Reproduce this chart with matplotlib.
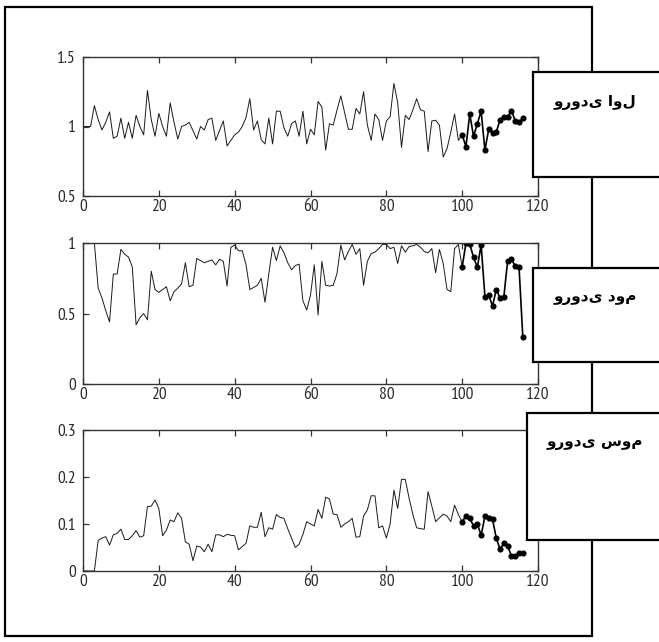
import matplotlib
matplotlib.use("Agg")
import matplotlib.pyplot as plt
from matplotlib.patches import Rectangle

# ---------------- data ----------------
x_main = list(range(0, 101))
x_mark = list(range(100, 117))

s1_main = [1.0, 1.0, 1.0, 1.15, 1.05, 0.975, 1.03, 1.105, 0.915, 0.93,
           1.06, 0.915, 1.03, 0.915, 1.08, 1.0, 0.94, 1.26, 1.05, 0.93,
           1.095, 1.0, 0.93, 1.17, 1.03, 0.91, 1.0, 1.01, 1.03, 0.97,
           0.91, 1.0, 0.975, 1.05, 1.06, 0.9, 0.97, 1.04, 0.86, 0.9,
           0.94, 0.96, 1.0, 1.065, 1.2, 0.975, 1.04, 0.905, 0.875, 1.06,
           0.875, 1.11, 1.11, 0.99, 0.93, 1.02, 1.04, 0.93, 1.11, 0.875,
           0.98, 0.94, 1.18, 1.14, 0.83, 1.02, 1.01, 1.12, 1.22, 1.1,
           0.98, 0.98, 1.13, 1.09, 1.25, 1.01, 0.9, 1.09, 1.05, 0.9,
           1.04, 1.07, 1.31, 1.17, 0.85, 1.08, 1.05, 1.12, 1.2, 1.12,
           1.11, 0.82, 1.04, 1.045, 1.01, 0.78, 0.84, 0.96, 1.09, 0.9,
           0.94]
s1_mark = [0.94, 0.855, 1.09, 0.93, 1.02, 1.11, 0.83, 0.98, 0.955, 0.96,
           1.05, 1.07, 1.07, 1.115, 1.04, 1.03, 1.06]

s2_main = [1.0, 1.0, 1.0, 1.0, 0.68, 0.61, 0.52, 0.44, 0.78, 0.78,
           0.955, 0.92, 0.9, 0.83, 0.42, 0.47, 0.5, 0.455, 0.8, 0.67,
           0.65, 0.67, 0.69, 0.59, 0.655, 0.68, 0.71, 0.86, 0.69, 0.70,
           0.89, 0.875, 0.86, 0.87, 0.88, 0.845, 0.885, 0.87, 0.695, 0.97,
           0.985, 0.945, 0.945, 0.845, 0.67, 0.685, 0.70, 0.75, 0.58, 0.78,
           0.97, 0.875, 0.98, 0.93, 0.86, 0.81, 0.84, 0.85, 0.59, 0.525,
           0.63, 0.845, 0.49, 0.87, 0.70, 0.695, 0.70, 0.785, 0.985, 0.88,
           0.94, 0.99, 0.92, 0.96, 0.70, 0.87, 0.925, 0.935, 0.96, 0.99,
           0.99, 0.96, 0.97, 0.855, 0.98, 0.935, 0.975, 0.98, 0.99, 0.97,
           0.94, 0.93, 0.96, 0.79, 0.955, 0.855, 0.67, 0.655, 0.96, 0.99,
           0.83]
s2_mark = [0.83, 1.0, 0.993, 0.898, 0.828, 0.986, 0.62, 0.63, 0.553, 0.67,
           0.61, 0.62, 0.875, 0.884, 0.837, 0.828, 0.331]

s3_main = [0.0, 0.0, 0.0, 0.0, 0.065, 0.07, 0.073, 0.055, 0.077, 0.08,
           0.089, 0.067, 0.067, 0.075, 0.086, 0.072, 0.075, 0.137, 0.138, 0.151,
           0.133, 0.075, 0.087, 0.1085, 0.105, 0.124, 0.112, 0.062, 0.057, 0.022,
           0.053, 0.051, 0.041, 0.057, 0.041, 0.077, 0.077, 0.073, 0.078, 0.076,
           0.075, 0.045, 0.052, 0.059, 0.096, 0.093, 0.093, 0.125, 0.073, 0.092,
           0.089, 0.12, 0.114, 0.112, 0.09, 0.07, 0.05, 0.057, 0.078, 0.105,
           0.1, 0.096, 0.131, 0.112, 0.157, 0.153, 0.121, 0.12, 0.093, 0.1,
           0.105, 0.112, 0.072, 0.073, 0.117, 0.13, 0.16, 0.16, 0.092, 0.096,
           0.07, 0.1, 0.172, 0.133, 0.195, 0.195, 0.155, 0.12, 0.092, 0.09,
           0.089, 0.169, 0.138, 0.105, 0.113, 0.121, 0.117, 0.105, 0.14, 0.12,
           0.105]
s3_mark = [0.105, 0.117, 0.112, 0.096, 0.1, 0.0765, 0.116, 0.112, 0.11, 0.07,
           0.046, 0.06, 0.053, 0.032, 0.032, 0.039, 0.039]

x_ticks = [0, 20, 40, 60, 80, 100, 120]
y_ticks = [[0.5, 1, 1.5], [0, 0.5, 1], [0, 0.1, 0.2, 0.3]]
y_ticklabels = [["0.5", "1", "1.5"], ["0", "0.5", "1"], ["0", "0.1", "0.2", "0.3"]]
y_limits = [(0.5, 1.5), (0, 1), (0, 0.3)]
labels = ["ورودی اول", "ورودی دوم", "ورودی سوم"]

# ---------------- figure ----------------
W, H = 659, 642
fig = plt.figure(figsize=(W / 100, H / 100), dpi=100)
fig.patch.set_facecolor('white')


def fx(px):
    return px / W


def fy(py):
    return 1 - py / H


tick_font = dict(family=['PT Sans Narrow', 'Roboto Condensed', 'Archivo Narrow',
                         'Liberation Sans Narrow', 'DejaVu Sans'],
                 size=12.5, color='#2a2a2a')

# outer frame
fig.add_artist(Rectangle((fx(5), fy(636)), fx(592) - fx(5), fy(7) - fy(636),
                         transform=fig.transFigure, fill=False, ec='black', lw=1.6, zorder=0))

axes_px = [(57, 196), (243, 384), (430, 571)]
series_main = [s1_main, s2_main, s3_main]
series_mark = [s1_mark, s2_mark, s3_mark]

for i, (top, bot) in enumerate(axes_px):
    ax = fig.add_axes([fx(83), fy(bot), fx(538) - fx(83), fy(top) - fy(bot)])
    ax.plot(x_main, series_main[i], color='#1a1a1a', lw=0.7)
    ax.plot(x_mark, series_mark[i], color='black', lw=1.2, marker='o', ms=3.4,
            mfc='black', mec='black')
    ax.set_xlim(0, 120)
    ax.set_ylim(*y_limits[i])
    ax.set_xticks(x_ticks)
    ax.set_xticklabels([str(t) for t in x_ticks], fontdict=tick_font)
    ax.set_yticks(y_ticks[i])
    ax.set_yticklabels(y_ticklabels[i], fontdict=tick_font)
    ax.tick_params(direction='in', top=True, right=True, length=4, width=0.9,
                   color='#333333', pad=2)
    ax.tick_params(axis='y', pad=5)
    for sp in ax.spines.values():
        sp.set_linewidth(1.0)
        sp.set_color('#333333')
    ax.set_facecolor('white')

# label boxes on the right
boxes_px = [(533, 72, 177), (533, 268, 362), (527, 413, 540)]
for (left, top, bot), lab in zip(boxes_px, labels):
    fig.add_artist(Rectangle((fx(left), fy(bot)), fx(700) - fx(left), fy(top) - fy(bot),
                             transform=fig.transFigure, fc='white', ec='black', lw=1.6,
                             zorder=5))
    fig.text(fx(595), fy(top + 30), lab, ha='center', va='center',
             family=['DejaVu Sans'], weight='bold', size=11, zorder=6)

fig.savefig('out.png', dpi=100, facecolor='white')
